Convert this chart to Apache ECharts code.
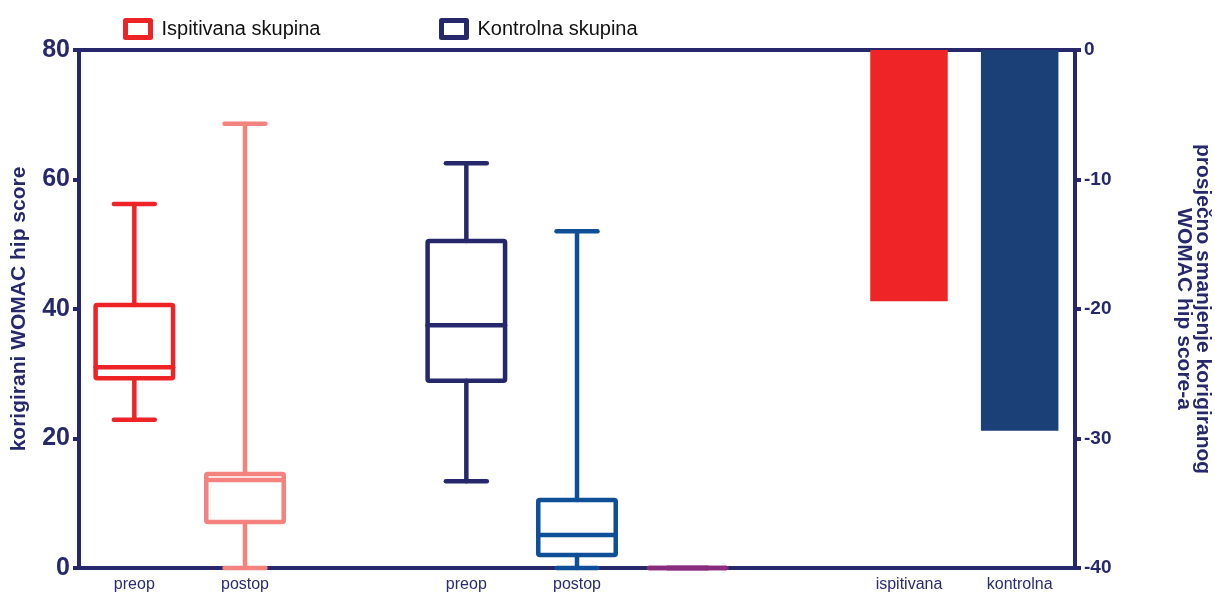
<!DOCTYPE html>
<html>
<head>
<meta charset="utf-8">
<script src="https://cdn.jsdelivr.net/npm/echarts@6/dist/echarts.min.js"></script>
<style>
html,body{margin:0;padding:0;background:#fff;}
#chart{width:1215px;height:597px;}
</style>
</head>
<body>
<div id="chart"></div>
<script>
// ---- data ----
const categories = ['preop', 'postop', '', 'preop', 'postop', '', '', 'ispitivana', 'kontrolna'];
const leftTicks = [0, 20, 40, 60, 80];
const rightTicks = [-40, -30, -20, -10, 0];
// [categoryIndex, min, Q1, median, Q3, max]
const ispitivanaBoxes = [
  [0, 22.9, 29.3, 31.0, 40.6, 56.2],
  [1, 0, 7.1, 13.6, 14.5, 68.6]
];
const kontrolnaBoxes = [
  [3, 13.4, 28.9, 37.5, 50.5, 62.5],
  [4, 0, 2.0, 5.1, 10.5, 52.0]
];
const emptyBox = [
  [5, 0, 0, 0, 0, 0]
];
const reductionValues = ['-', '-', '-', '-', '-', '-', '-', -19.4, -29.4];

// ---- style ----
const axisColor = '#27286B';
const font = "'Liberation Sans', Arial, Helvetica, sans-serif";
const ispColors = ['#EE2326', '#F4827E'];
const konColors = ['#27286B', '#0F4F97'];
const barColors = ['#EE2426', '#1B4078'];

function renderBox(params, api) {
  const x = api.value(0);
  const pMin = api.coord([x, api.value(1)]);
  const pQ1 = api.coord([x, api.value(2)]);
  const pMed = api.coord([x, api.value(3)]);
  const pQ3 = api.coord([x, api.value(4)]);
  const pMax = api.coord([x, api.value(5)]);
  const band = api.size([1, 0])[0];
  const bw = band * 0.70;
  const cw = band * 0.37;
  const cx = pMin[0];
  const color = api.visual('color');
  const st = {stroke: color, lineWidth: 4.5, fill: null, lineCap: 'round', lineJoin: 'round'};
  return {
    type: 'group',
    children: [
      {type: 'line', shape: {x1: cx, y1: pQ3[1], x2: cx, y2: pMax[1]}, style: st},
      {type: 'line', shape: {x1: cx - cw / 2, y1: pMax[1], x2: cx + cw / 2, y2: pMax[1]}, style: st},
      {type: 'line', shape: {x1: cx, y1: pQ1[1], x2: cx, y2: pMin[1]}, style: st},
      {type: 'line', shape: {x1: cx - cw / 2, y1: pMin[1], x2: cx + cw / 2, y2: pMin[1]}, style: st},
      {type: 'rect', shape: {x: cx - bw / 2, y: pQ3[1], width: bw, height: pQ1[1] - pQ3[1], r: 1.5}, style: st},
      {type: 'line', shape: {x1: cx - bw / 2, y1: pMed[1], x2: cx + bw / 2, y2: pMed[1]}, style: st}
    ]
  };
}

const chart = echarts.init(document.getElementById('chart'), null, {renderer: 'canvas'});
const legendCommon = {
  top: 13, itemWidth: 25, itemHeight: 17, itemGap: 10, selectedMode: false,
  textStyle: {fontSize: 20, color: '#111', fontFamily: font, padding: [0, 0, 0, 6]}
};
const option = {
  animation: false,
  backgroundColor: '#fff',
  textStyle: {fontFamily: font},
  legend: [
    Object.assign({left: 118, data: [{name: 'Ispitivana skupina', icon: 'rect',
      itemStyle: {color: '#fff', borderColor: ispColors[0], borderWidth: 5, borderJoin: 'round'}}]}, legendCommon),
    Object.assign({left: 434, data: [{name: 'Kontrolna skupina', icon: 'rect',
      itemStyle: {color: '#fff', borderColor: konColors[0], borderWidth: 5, borderJoin: 'round'}}]}, legendCommon)
  ],
  grid: {left: 79, right: 140, top: 50, bottom: 29, containLabel: false, outerBoundsMode: 'none'},
  xAxis: [
    {
      type: 'category', data: categories, position: 'bottom',
      axisLine: {lineStyle: {color: axisColor, width: 4}},
      axisTick: {show: false},
      axisLabel: {interval: 0, color: '#2B2C70', fontSize: 16, margin: 9, fontFamily: font},
      splitLine: {show: false}
    },
    {
      type: 'category', data: categories, position: 'top',
      axisLine: {lineStyle: {color: axisColor, width: 4}},
      axisTick: {show: false}, axisLabel: {show: false}, splitLine: {show: false}
    }
  ],
  yAxis: [
    {
      type: 'value', min: leftTicks[0], max: leftTicks[leftTicks.length - 1], interval: 20,
      position: 'left',
      name: 'korigirani WOMAC hip score', nameLocation: 'middle', nameGap: 49,
      nameTextStyle: {fontSize: 21, fontWeight: 'bold', color: axisColor, fontFamily: font},
      axisLine: {show: true, lineStyle: {color: axisColor, width: 4}},
      axisTick: {show: true, length: 6, lineStyle: {color: axisColor, width: 4}},
      axisLabel: {fontSize: 25, fontWeight: 'bold', color: axisColor, margin: 9, fontFamily: font},
      splitLine: {show: false}
    },
    {
      type: 'value', min: rightTicks[0], max: rightTicks[rightTicks.length - 1], interval: 10,
      position: 'right',
      name: 'prosječno smanjenje korigiranog\nWOMAC hip score-a', nameLocation: 'middle', nameGap: 99,
      nameRotate: -90,
      nameTextStyle: {fontSize: 21, fontWeight: 'bold', color: axisColor, lineHeight: 19, align: 'center', fontFamily: font},
      axisLine: {show: true, lineStyle: {color: axisColor, width: 4}},
      axisTick: {show: true, length: 6, lineStyle: {color: axisColor, width: 4}},
      axisLabel: {fontSize: 19, fontWeight: 'bold', color: axisColor, margin: 9, fontFamily: font},
      splitLine: {show: false}
    }
  ],
  series: [
    {
      name: 'Ispitivana skupina', type: 'custom', renderItem: renderBox,
      xAxisIndex: 0, yAxisIndex: 0, encode: {x: 0, y: [1, 2, 3, 4, 5]},
      itemStyle: {color: ispColors[0]},
      data: ispitivanaBoxes.map((d, i) => ({value: d, itemStyle: {color: ispColors[i]}})),
      z: 5
    },
    {
      name: 'Kontrolna skupina', type: 'custom', renderItem: renderBox,
      xAxisIndex: 0, yAxisIndex: 0, encode: {x: 0, y: [1, 2, 3, 4, 5]},
      itemStyle: {color: konColors[0]},
      data: kontrolnaBoxes.map((d, i) => ({value: d, itemStyle: {color: konColors[i]}})),
      z: 5
    },
    {
      name: 'empty', type: 'custom', renderItem: renderBox,
      xAxisIndex: 0, yAxisIndex: 0, encode: {x: 0, y: [1, 2, 3, 4, 5]},
      itemStyle: {color: '#8A2B80'},
      data: emptyBox,
      z: 5
    },
    {
      name: 'reduction', type: 'bar', xAxisIndex: 0, yAxisIndex: 1,
      barWidth: '70%',
      data: reductionValues.map((v, i) => (v === '-' ? '-' : {value: v, itemStyle: {color: barColors[i - 7]}})),
      z: 1
    }
  ]
};
chart.setOption(option);
</script>
</body>
</html>
